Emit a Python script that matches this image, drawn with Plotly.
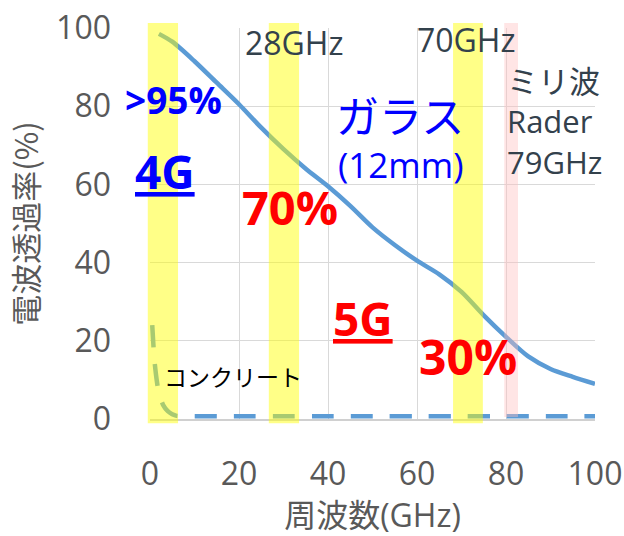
import plotly.graph_objects as go

# Transmission through 12 mm glass (%) vs frequency (GHz)
glass_freq = [2, 5, 10, 15, 20, 25, 30, 35, 40, 45, 50, 55, 60, 65, 70, 75, 80, 85, 90, 95, 100]
glass_trans = [98.5, 96.5, 91.5, 86, 80.5, 74.5, 69, 64, 59.5, 54.5, 49, 44.5, 40.5, 37, 32.5, 26.5, 21, 16, 12.8, 10.8, 9]

# Transmission through concrete (%) vs frequency (GHz)
concrete_freq = [0.5, 1, 1.5, 2, 3, 4, 5, 6, 10, 20, 30, 40, 50, 60, 70, 80, 90, 100]
concrete_trans = [24, 15, 10, 6.5, 3.5, 2, 1.2, 0.8, 0.7, 0.7, 0.7, 0.7, 0.7, 0.7, 0.7, 0.7, 0.7, 0.7]

# Frequency bands highlighted on the chart (GHz)
band_ranges = [(-0.5, 6.3), (26.7, 33.5), (68.1, 74.8)]
radar_band = (79.6, 82.7)

x_ticks = [0, 20, 40, 60, 80, 100]
y_ticks = [0, 20, 40, 60, 80, 100]

X_RANGE = [0, 100]
Y_RANGE = [0, 100]

BLUE = "#5B9BD5"
FONT = "Open Sans, Noto Sans CJK JP, sans-serif"
JP = "Noto Sans CJK JP, sans-serif"
DARK = "#33414C"


def xp(v):
    return (v - X_RANGE[0]) / (X_RANGE[1] - X_RANGE[0])


fig = go.Figure()

fig.add_trace(go.Scatter(
    x=glass_freq, y=glass_trans, mode="lines",
    line=dict(color=BLUE, width=4.5, shape="spline", smoothing=0.8),
    hoverinfo="skip", showlegend=False,
))
fig.add_trace(go.Scatter(
    x=concrete_freq, y=concrete_trans, mode="lines",
    line=dict(color=BLUE, width=4.5, shape="spline", smoothing=0.6, dash="22px,17px"),
    hoverinfo="skip", showlegend=False,
))

shapes = []
for lo, hi in band_ranges:
    shapes.append(dict(
        type="rect", xref="paper", yref="paper",
        x0=xp(lo), x1=xp(hi), y0=-0.011, y1=1.013,
        fillcolor="rgba(255,255,0,0.47)", line=dict(width=0), layer="above",
    ))
shapes.append(dict(
    type="rect", xref="paper", yref="paper",
    x0=xp(radar_band[0]), x1=xp(radar_band[1]), y0=0.005, y1=1.013,
    fillcolor="rgba(255,190,190,0.4)", line=dict(width=0), layer="above",
))

annotations = [
    dict(x=5.2, y=81.6, text="<b>&gt;95%</b>", font=dict(size=37, color="#0000FF", family=FONT)),
    dict(x=3.4, y=63.5, text="<b><u>4G</u></b>", font=dict(size=46, color="#0000FF", family=FONT)),
    dict(x=31.5, y=54.2, text="<b>70%</b>", font=dict(size=47, color="#FF0000", family=FONT)),
    dict(x=32.4, y=96.2, text="28GHz", font=dict(size=32, color=DARK, family=FONT)),
    dict(x=71, y=97, text="70GHz", font=dict(size=32, color=DARK, family=FONT)),
    dict(x=79.8, y=76, text="ミリ波<br>Rader<br>79GHz", xanchor="left", align="left",
         font=dict(size=31, color=DARK, family=FONT)),
    dict(x=56.2, y=78, text="ガラス", font=dict(size=43, color="#0000FF", family=JP)),
    dict(x=56.2, y=65.2, text="(12mm)", font=dict(size=35, color="#0000FF", family=FONT)),
    dict(x=47.9, y=25.8, text="<b><u>5G</u></b>", font=dict(size=46, color="#FF0000", family=FONT)),
    dict(x=71.5, y=16.1, text="<b>30%</b>", font=dict(size=48, color="#FF0000", family=FONT)),
    dict(x=18.7, y=11, text="コンクリート", font=dict(size=23, color="#000000", family=JP)),
]
for a in annotations:
    a.update(xref="x", yref="y", showarrow=False)

fig.update_layout(
    width=624, height=536,
    margin=dict(l=150, r=29, t=28, b=117),
    paper_bgcolor="white", plot_bgcolor="white",
    shapes=shapes, annotations=annotations,
    showlegend=False,
)

fig.update_xaxes(
    range=X_RANGE, tickvals=x_ticks, ticktext=[str(v) for v in x_ticks],
    showgrid=True, gridcolor="#D9D9D9", gridwidth=1, zeroline=False,
    showline=True, linecolor="#D0D0D0", linewidth=1.5,
    ticks="", ticklabelstandoff=26, automargin=False,
    tickfont=dict(size=32, color="#595959", family=FONT),
    title=dict(text="周波数(GHz)", font=dict(size=32, color="#595959", family=FONT), standoff=24),
)
fig.update_yaxes(
    range=Y_RANGE, tickvals=y_ticks, ticktext=[str(v) for v in y_ticks],
    showgrid=True, gridcolor="#D9D9D9", gridwidth=1, zeroline=False,
    ticks="", ticklabelstandoff=38, automargin=False,
    tickfont=dict(size=32, color="#595959", family=FONT),
    title=dict(text="電波透過率(%)", font=dict(size=31, color="#595959", family=JP), standoff=8),
)

fig.write_html("out.html")
